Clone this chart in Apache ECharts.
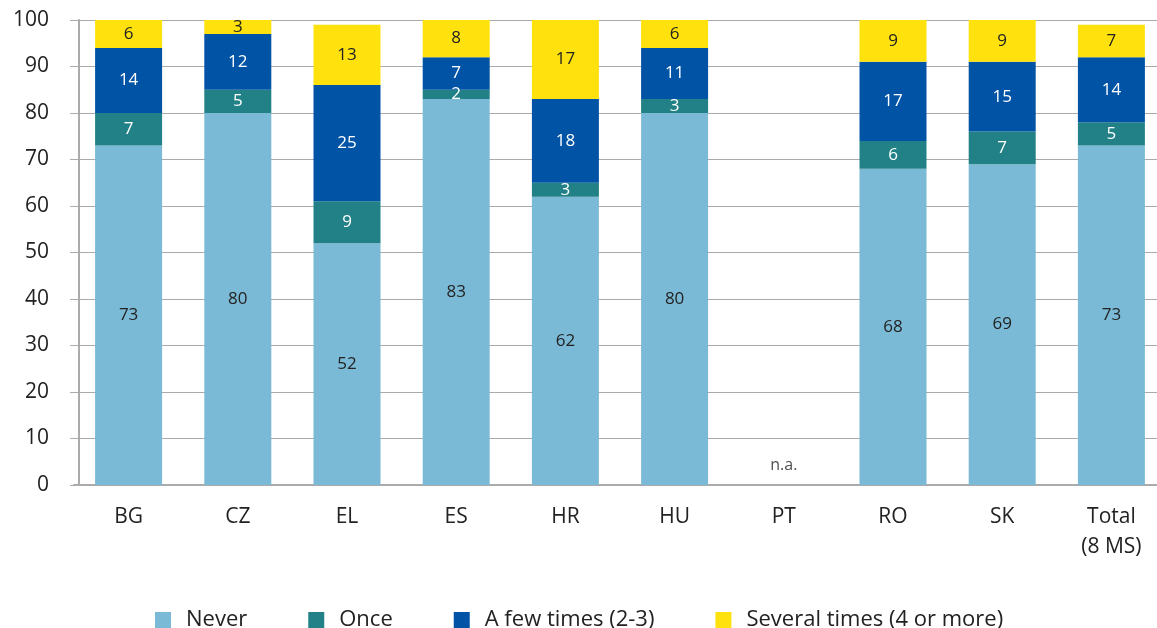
<!DOCTYPE html>
<html><head><meta charset="utf-8">
<script src="https://cdn.jsdelivr.net/npm/echarts@6/dist/echarts.min.js"></script>
<style>html,body{margin:0;padding:0;background:#fff}#c{width:1157px;height:628px}</style>
</head><body><div id="c"></div>
<script>
const categories = ['BG','CZ','EL','ES','HR','HU','PT','RO','SK','Total\n(8 MS)'];
const never   = [73, 80, 52, 83, 62, 80, null, 68, 69, 73];
const once    = [7, 5, 9, 2, 3, 3, null, 6, 7, 5];
const fewTimes = [14, 12, 25, 7, 18, 11, null, 17, 15, 14];
const several = [6, 3, 13, 8, 17, 6, null, 9, 9, 7];
const naLabels = [null, null, null, null, null, null, 0, null, null, null];
const seriesNames = ['Never','Once','A few times (2-3)','Several times (4 or more)'];
const yTicks = [0, 10, 20, 30, 40, 50, 60, 70, 80, 90, 100];

const FONT = '"Open Sans", "Noto Sans", sans-serif';
const legendTextWidths = [61, 51, 181, 266];
function barSeries(name, data, color, textColor) {
  return {
    name, type: 'bar', stack: 's', data, barWidth: 67,
    itemStyle: { color },
    label: { show: true, position: 'inside', color: textColor, fontSize: 17, fontFamily: FONT },
    emphasis: { disabled: true }
  };
}
const chart = echarts.init(document.getElementById('c'));
chart.setOption({
  animation: false,
  textStyle: { fontFamily: FONT },
  grid: { left: 74, width: 1092, top: 20, bottom: 143, containLabel: false, outerBoundsMode: 'none' },
  legend: {
    data: seriesNames.map((n, i) => ({ name: n, textStyle: { width: legendTextWidths[i], overflow: 'none' } })),
    bottom: -8, left: 150, itemWidth: 16, itemHeight: 16, itemGap: 61, icon: 'rect',
    textStyle: { fontSize: 22, color: '#222', fontFamily: FONT, padding: [0, 0, 0, 10] }
  },
  xAxis: {
    type: 'category', data: categories,
    axisLine: { lineStyle: { color: '#aaa', width: 2 } },
    axisTick: { show: false },
    axisLabel: { fontSize: 21, color: '#222', margin: 17, lineHeight: 30, interval: 0 }
  },
  yAxis: {
    type: 'value', min: 0, max: 100, interval: 10, offset: -5,
    axisLine: { show: true, lineStyle: { color: '#aaa', width: 2 } },
    axisTick: { show: true, length: 9, lineStyle: { color: '#aaa' } },
    splitLine: { lineStyle: { color: '#aaa', width: 1 } },
    axisLabel: { fontSize: 21, color: '#222', margin: 30,
      formatter: v => yTicks.includes(v) ? String(v) : '' }
  },
  series: [
    barSeries(seriesNames[0], never, '#7bbad6', '#222'),
    barSeries(seriesNames[1], once, '#218186', '#fff'),
    barSeries(seriesNames[2], fewTimes, '#0053a5', '#fff'),
    barSeries(seriesNames[3], several, '#ffe20d', '#222'),
    {
      name: 'na', type: 'scatter', data: naLabels, symbolSize: 0,
      label: { show: true, position: 'top', distance: 12, formatter: 'n.a.', fontSize: 16, color: '#222', fontFamily: FONT },
      emphasis: { disabled: true }, z: 10
    }
  ]
});
</script></body></html>
